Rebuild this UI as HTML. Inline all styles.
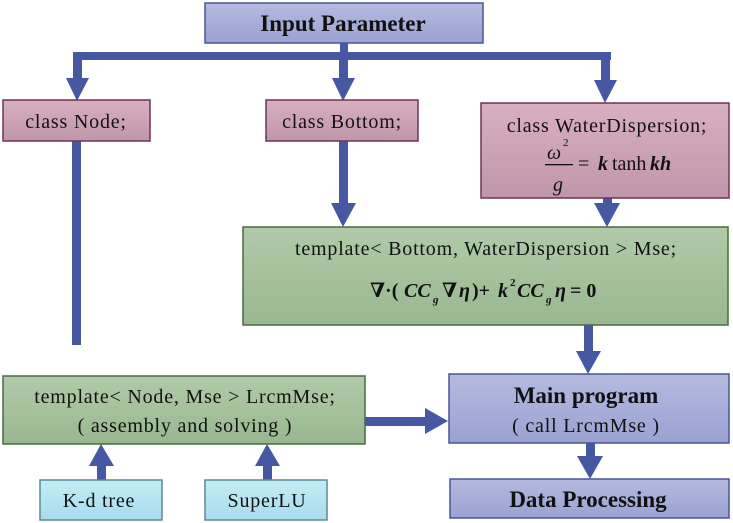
<!DOCTYPE html>
<html><head><style>
html,body{margin:0;padding:0;background:#fff;}
svg{display:block;}
text{font-family:"Liberation Serif","DejaVu Serif",serif;fill:#111;}
</style></head><body>
<svg width="733" height="523" viewBox="0 0 733 523" xmlns="http://www.w3.org/2000/svg">
<defs>
<linearGradient id="bl" x1="0" y1="0" x2="0" y2="1"><stop offset="0" stop-color="#b4badf"/><stop offset="1" stop-color="#9aa2d2"/></linearGradient>
<linearGradient id="pk" x1="0" y1="0" x2="0" y2="1"><stop offset="0" stop-color="#d8b0c0"/><stop offset="1" stop-color="#c096aa"/></linearGradient>
<linearGradient id="gr" x1="0" y1="0" x2="0" y2="1"><stop offset="0" stop-color="#b0caa8"/><stop offset="1" stop-color="#98b890"/></linearGradient>
<linearGradient id="cy" x1="0" y1="0" x2="0" y2="1"><stop offset="0" stop-color="#c4ecf6"/><stop offset="1" stop-color="#a8dcec"/></linearGradient>
</defs>
<g fill="#4658a2">
<rect x="340" y="43" width="8" height="12"/>
<rect x="73" y="52" width="538" height="8"/>
<rect x="73" y="52" width="9" height="28"/><polygon points="66,78 89,78 77,101"/>
<rect x="339" y="52" width="9" height="28"/><polygon points="332,78 355,78 343,101"/>
<rect x="601" y="52" width="9" height="28"/><polygon points="594,80 617,80 605,103"/>
<rect x="72" y="141" width="9" height="204"/>
<rect x="339" y="141" width="9" height="64"/><polygon points="331,203 356,203 343,227"/>
<rect x="603" y="198" width="9" height="7"/><polygon points="594,203 620,203 607,227"/>
<rect x="584" y="325" width="9" height="28"/><polygon points="576,351 601,351 588,374"/>
<rect x="365" y="417" width="62" height="9"/><polygon points="425,408 425,434 448,421"/>
<rect x="586" y="443" width="9" height="16"/><polygon points="577,456 603,456 590,479"/>
<rect x="97" y="464" width="9" height="16"/><polygon points="89,466 114,466 101,444"/>
<rect x="263" y="464" width="9" height="16"/><polygon points="255,466 280,466 267,444"/>
</g>
<g stroke-width="1.5">
<rect x="205" y="3" width="278" height="40" fill="url(#bl)" stroke="#4a5598"/>
<rect x="3" y="100" width="147" height="41" fill="url(#pk)" stroke="#6e3456"/>
<rect x="266" y="100" width="152" height="41" fill="url(#pk)" stroke="#6e3456"/>
<rect x="481" y="103" width="248" height="95" fill="url(#pk)" stroke="#6e3456"/>
<rect x="243" y="227" width="485" height="98" fill="url(#gr)" stroke="#4a6a40"/>
<rect x="3" y="376" width="362" height="68" fill="url(#gr)" stroke="#4a6a40"/>
<rect x="449" y="374" width="280" height="69" fill="url(#bl)" stroke="#4a5598"/>
<rect x="450" y="479" width="279" height="39" fill="url(#bl)" stroke="#4a5598"/>
<rect x="40" y="480" width="122" height="40" fill="url(#cy)" stroke="#5a8a98"/>
<rect x="205" y="480" width="122" height="40" fill="url(#cy)" stroke="#5a8a98"/>
</g>
<g font-size="20" text-anchor="middle" letter-spacing="0.8">
<text x="343" y="31" font-weight="bold" font-size="23" letter-spacing="0">Input Parameter</text>
<text x="76" y="128">class Node;</text>
<text x="342" y="128">class Bottom;</text>
<text x="607" y="132">class WaterDispersion;</text>
<text x="486" y="255">template&lt; Bottom, WaterDispersion &gt;  Mse;</text>
<text x="185" y="403">template&lt; Node, Mse &gt;  LrcmMse;</text>
<text x="185" y="432">( assembly and solving )</text>
<text x="586" y="403" font-weight="bold" font-size="23" letter-spacing="0">Main program</text>
<text x="586" y="432">( call LrcmMse )</text>
<text x="588" y="507" font-weight="bold" font-size="23" letter-spacing="0">Data Processing</text>
<text x="99" y="507">K-d tree</text>
<text x="267" y="507">SuperLU</text>
</g>
<g font-size="20">
<text x="547" y="159" font-style="italic">ω</text>
<text x="563" y="146" font-size="11">2</text>
<rect x="545" y="164" width="28" height="1.3" fill="#111"/>
<text x="553" y="191" font-style="italic">g</text>
<text x="578" y="170">=</text>
<text x="598" y="170" font-style="italic" font-weight="bold">k</text>
<text x="612" y="170">tanh</text>
<text x="650" y="170" font-style="italic" font-weight="bold">kh</text>
</g>
<g font-size="20" font-weight="bold">
<text x="370" y="297">∇·(</text>
<text x="404" y="297" font-style="italic">CC</text>
<text x="433" y="303" font-size="11" font-style="italic">g</text>
<text x="442" y="297">∇</text>
<text x="459" y="297" font-style="italic">η</text>
<text x="472" y="297">)+</text>
<text x="498" y="297" font-style="italic">k</text>
<text x="510" y="286" font-size="11">2</text>
<text x="517" y="297" font-style="italic">CC</text>
<text x="546" y="303" font-size="11" font-style="italic">g</text>
<text x="555" y="297" font-style="italic">η</text>
<text x="570" y="297">= 0</text>
</g>
</svg>
</body></html>
